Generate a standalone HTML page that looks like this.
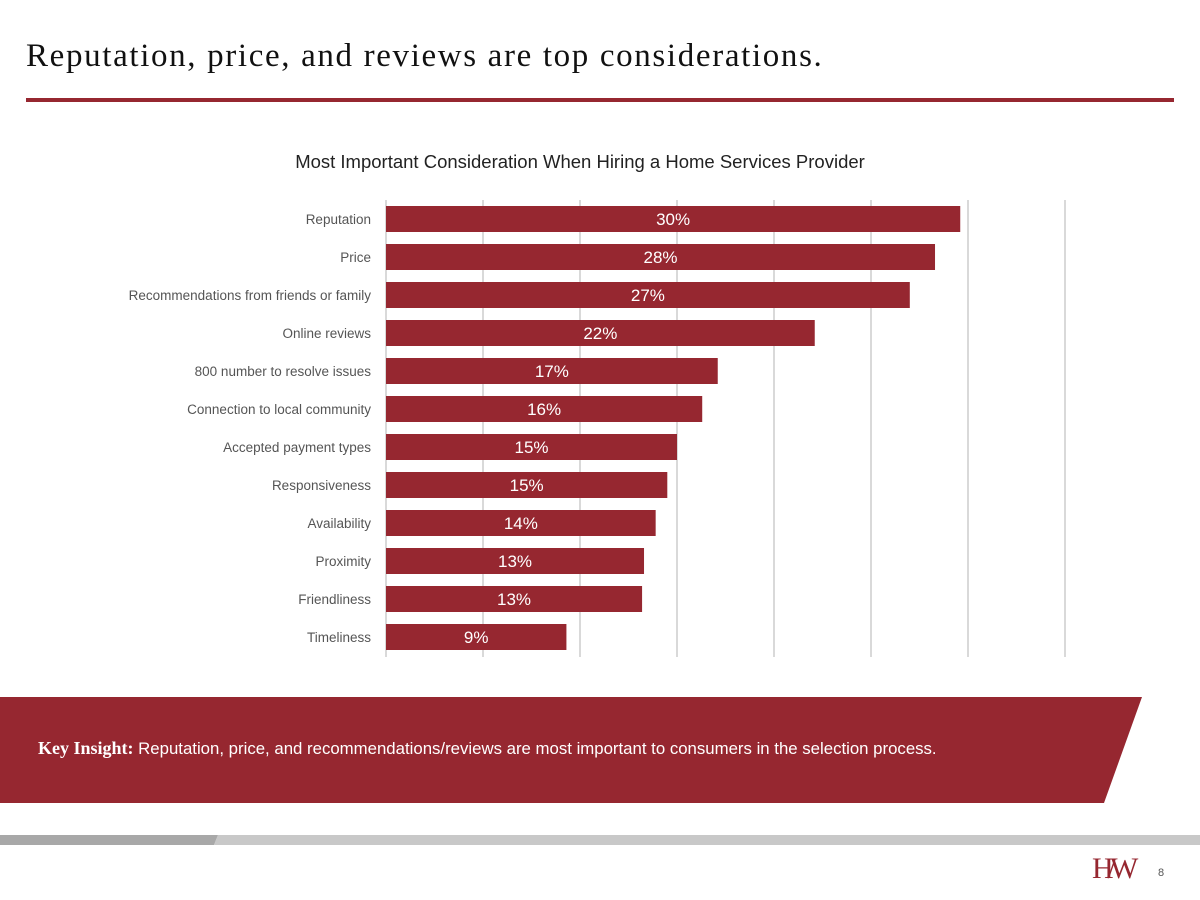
<!DOCTYPE html>
<html><head><meta charset="utf-8"><style>
body{margin:0;width:1200px;height:900px;background:#fff;position:relative;overflow:hidden;font-family:"Liberation Sans Narrow","Liberation Sans",sans-serif}
.t{position:absolute}
</style></head><body>
<div class="t" style="left:26px;top:38px;font-family:'Liberation Serif',serif;font-size:33px;color:#111;letter-spacing:1.65px">Reputation, price, and reviews are top considerations.</div>
<div class="t" style="left:26px;top:98px;width:1148px;height:4px;background:#962730"></div>
<svg class="t" style="left:0;top:0" width="1200" height="900" id="chart"></svg>
<svg class="t" style="left:0;top:0" width="1200" height="900">
<polygon points="0,697 1142,697 1104,803 0,803" fill="#962730"/>
<polygon points="0,835 218,835 214,845 0,845" fill="#a8a8a8"/>
<polygon points="218,835 1200,835 1200,845 214,845" fill="#c8c8c8"/>
</svg>
<div class="t" style="left:38px;top:738px;font-size:16.8px;color:#fff"><b style="font-family:'Liberation Serif',serif;font-size:18px">Key Insight:</b> Reputation, price, and recommendations/reviews are most important to consumers in the selection process.</div>
<div class="t" style="left:1092px;top:852px;font-family:'Liberation Serif',serif;font-size:30px;color:#962730;letter-spacing:-6px">H/W</div>
<div class="t" style="left:1158px;top:867px;font-size:11px;color:#555">8</div>
<script>
const categories=["Reputation","Price","Recommendations from friends or family","Online reviews","800 number to resolve issues","Connection to local community","Accepted payment types","Responsiveness","Availability","Proximity","Friendliness","Timeliness"];
const values=[29.6,28.3,27.0,22.1,17.1,16.3,15.0,14.5,13.9,13.3,13.2,9.3];
const labels=["30%","28%","27%","22%","17%","16%","15%","15%","14%","13%","13%","9%"];
const ticks=[0,5,10,15,20,25,30,35];
const svg=document.getElementById('chart');const NS="http://www.w3.org/2000/svg";
const x0=386,pxPer=19.4,y0=200,step=38,bh=26;
const X=v=>x0+v*pxPer;const Y=i=>y0+step*i+19;
function mk(t,a){const e=document.createElementNS(NS,t);for(const k in a)e.setAttribute(k,a[k]);svg.appendChild(e);return e;}
const tt=mk('text',{x:580,y:168,'text-anchor':'middle','font-size':18.5,fill:'#222'});tt.textContent="Most Important Consideration When Hiring a Home Services Provider";


ticks.forEach(v=>{const l=mk('line',{x1:X(v),x2:X(v),y1:200,y2:657,stroke:'#d9d9d9','stroke-width':2});

});
categories.forEach((c,i)=>{
const r=mk('rect',{x:x0,y:Y(i)-bh/2,width:X(values[i])-x0,height:bh,fill:'#962730'});


const t=mk('text',{x:(x0+X(values[i]))/2,y:Y(i)+6,'text-anchor':'middle','font-size':17,fill:'#fff'});t.textContent=labels[i];


const a=mk('text',{x:371,y:Y(i)+5,'text-anchor':'end','font-size':13.5,fill:'#555'});a.textContent=c;


});
</script>
</body></html>
